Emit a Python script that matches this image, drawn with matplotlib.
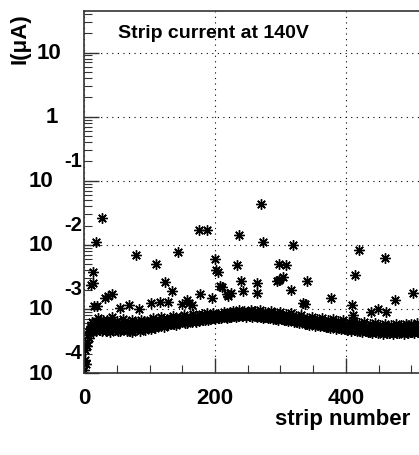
import numpy as np
import matplotlib
matplotlib.use("Agg")
import matplotlib.pyplot as plt
from matplotlib.ticker import LogLocator, NullFormatter, MultipleLocator

plt.rcParams['font.family'] = ['Liberation Sans', 'DejaVu Sans']
plt.rcParams['font.weight'] = 'bold'

# leakage current per strip, in units of 1e-4 uA (strips 0..511)
base_current = [
    1.1, 1.6, 2.3, 1.4, 3.1, 2.6, 3.9, 4.4, 3.5, 4.8, 5.3, 4.6, 6.2, 5.0, 4.3, 5.7,
    5.1, 5.8, 4.6, 6.3, 5.4, 4.9, 7.2, 5.6, 4.7, 5.2, 6.0, 4.5, 5.5, 6.6, 5.0, 4.8,
    5.9, 4.6, 5.3, 6.8, 5.1, 4.9, 5.6, 6.1, 4.4, 5.4, 7.5, 5.0, 4.8, 5.7, 6.2, 5.2,
    4.7, 5.5, 6.4, 5.0, 4.6, 5.8, 5.1, 4.5, 6.0, 5.3, 4.9, 5.6, 7.0, 4.8, 5.2, 5.9,
    5.0, 4.5, 5.7, 6.3, 4.8, 5.2, 4.6, 5.9, 5.1, 4.4, 6.6, 5.3, 4.9, 5.5, 4.7, 6.0,
    5.4, 4.8, 6.1, 5.0, 5.7, 4.6, 5.2, 6.8, 5.5, 4.9, 5.8, 5.1, 6.4, 4.7, 5.3, 5.9,
    5.5, 6.2, 5.0, 5.8, 6.7, 5.3, 4.9, 6.0, 5.6, 7.1, 5.2, 5.9, 6.4, 5.1, 5.7, 6.1,
    6.0, 5.4, 6.6, 5.7, 6.3, 7.4, 5.5, 6.1, 5.8, 6.9, 5.3, 6.2, 5.9, 6.5, 5.6, 7.0,
    6.3, 5.7, 6.8, 6.0, 7.3, 5.9, 6.5, 6.1, 7.8, 5.8, 6.6, 6.2, 7.0, 5.6, 6.4, 6.9,
    6.6, 6.0, 7.1, 6.3, 6.8, 7.6, 6.2, 6.9, 6.4, 8.0, 6.1, 6.7, 7.3, 6.5, 6.0, 7.0,
    6.9, 6.4, 7.5, 6.7, 7.2, 6.3, 8.2, 7.0, 6.6, 7.4, 6.9, 6.2, 7.8, 6.8, 7.1, 6.5,
    7.2, 6.6, 7.7, 7.0, 8.4, 6.8, 7.3, 7.6, 6.7, 7.9, 7.1, 6.9, 8.6, 7.4, 6.8, 7.5,
    7.5, 7.0, 8.0, 7.3, 7.8, 8.7, 7.2, 7.6, 6.9, 8.1, 7.4, 7.9, 7.1, 8.4, 7.3, 7.7,
    7.8, 7.2, 8.3, 7.6, 8.0, 7.4, 9.0, 7.7, 8.2, 7.5, 8.6, 7.3, 7.9, 8.1, 7.6, 8.8,
    8.1, 7.6, 8.6, 7.9, 9.2, 7.8, 8.3, 8.0, 7.5, 8.8, 8.2, 7.7, 9.5, 8.4, 7.9, 8.5,
    8.2, 7.8, 8.7, 8.0, 9.4, 7.9, 8.5, 8.1, 7.6, 9.0, 8.3, 8.0, 8.8, 7.7, 8.4, 9.7,
    8.1, 7.5, 8.6, 7.9, 8.3, 9.3, 7.8, 8.0, 7.4, 8.7, 8.2, 7.7, 9.6, 8.0, 7.6, 8.4,
    7.8, 7.2, 8.3, 7.6, 8.9, 7.4, 7.9, 7.5, 8.2, 7.1, 8.6, 7.7, 7.3, 8.0, 9.2, 7.5,
    7.4, 6.9, 7.9, 7.2, 8.5, 7.0, 7.6, 7.3, 6.8, 8.1, 7.5, 7.1, 8.8, 7.2, 6.9, 7.7,
    7.1, 6.6, 7.6, 6.9, 8.2, 6.7, 7.3, 7.0, 6.5, 7.8, 7.2, 6.8, 8.5, 6.9, 6.6, 7.4,
    6.7, 6.2, 7.2, 6.5, 7.7, 6.3, 6.9, 6.6, 6.1, 7.4, 6.8, 6.4, 8.0, 6.5, 6.2, 7.0,
    6.3, 5.8, 6.8, 6.1, 7.3, 5.9, 6.5, 6.2, 5.7, 7.0, 6.4, 6.0, 7.6, 6.1, 5.8, 6.6,
    6.0, 5.5, 6.5, 5.8, 7.0, 5.6, 6.2, 5.9, 5.4, 6.7, 6.1, 5.7, 7.2, 5.8, 5.5, 6.3,
    5.7, 5.2, 6.2, 5.5, 6.7, 5.3, 5.9, 5.6, 5.1, 6.4, 5.8, 5.4, 6.9, 5.5, 5.2, 6.0,
    5.4, 4.9, 5.9, 5.2, 6.4, 5.0, 5.6, 5.3, 4.8, 6.1, 5.5, 5.1, 6.6, 5.2, 4.9, 5.7,
    5.2, 4.7, 5.7, 5.0, 6.2, 4.8, 5.4, 5.1, 4.6, 5.9, 5.3, 4.9, 6.4, 5.0, 4.7, 5.5,
    5.0, 4.5, 5.5, 4.8, 6.0, 4.6, 5.2, 4.9, 4.4, 5.7, 5.1, 4.7, 6.2, 4.8, 4.5, 5.3,
    4.8, 4.3, 5.3, 4.6, 5.8, 4.4, 5.0, 4.7, 4.2, 5.5, 4.9, 4.5, 6.0, 4.6, 4.3, 5.1,
    4.7, 4.2, 5.2, 4.5, 5.7, 4.3, 4.9, 4.6, 4.1, 5.4, 4.8, 4.4, 5.9, 4.5, 4.2, 5.0,
    4.6, 4.2, 5.1, 4.5, 5.6, 4.3, 4.8, 4.6, 4.1, 5.3, 4.7, 4.4, 5.8, 4.5, 4.2, 4.9,
    4.7, 4.2, 5.2, 4.5, 5.7, 4.3, 4.9, 4.6, 4.1, 5.4, 4.8, 4.4, 5.9, 4.5, 4.2, 5.0,
    4.8, 4.3, 5.3, 4.6, 5.8, 4.4, 5.0, 4.7, 4.2, 5.5, 4.9, 4.5, 6.0, 4.6, 4.3, 5.1,
]

# noisy strips (strip number, current in uA)
noisy_strips = [10, 13, 13, 15, 18, 20, 28, 32, 37, 42, 55, 69, 79, 84, 103,
                110, 116, 124, 129, 135, 143, 150, 157, 160, 165, 175, 177, 188,
                195, 200, 202, 204, 208, 210, 218, 220, 225, 233, 236, 240, 243,
                264, 264, 270, 274, 295, 297, 298, 304, 309, 316, 319, 334, 337,
                340, 377, 409, 411, 414, 420, 438, 449, 460, 461, 475, 503]
noisy_current = [2.4e-3, 2.5e-3, 3.8e-3, 1.1e-3, 1.1e-2, 1.1e-3, 2.6e-2, 1.5e-3,
                 1.6e-3, 1.7e-3, 1.05e-3, 1.15e-3, 7.0e-3, 1.0e-3, 1.25e-3,
                 5.0e-3, 1.3e-3, 2.6e-3, 1.3e-3, 1.9e-3, 7.7e-3, 1.2e-3, 1.4e-3,
                 1.25e-3, 1.15e-3, 1.7e-2, 1.7e-3, 1.7e-2, 1.5e-3, 6.0e-3, 4.1e-3,
                 3.8e-3, 2.3e-3, 2.2e-3, 1.7e-3, 1.6e-3, 1.8e-3, 4.9e-3, 1.4e-2,
                 2.7e-3, 1.9e-3, 2.5e-3, 1.8e-3, 4.4e-2, 1.1e-2, 2.7e-3, 2.8e-3,
                 5.0e-3, 3.1e-3, 4.9e-3, 2.0e-3, 1.0e-2, 1.25e-3, 1.2e-3, 2.7e-3,
                 1.5e-3, 1.15e-3, 8.0e-4, 3.4e-3, 8.3e-3, 9.0e-4, 9.8e-4, 6.2e-3,
                 9.0e-4, 1.4e-3, 1.8e-3]

y_decades = [1e-4, 1e-3, 1e-2, 1e-1, 1, 10]
y_exponents = ['-4', '-3', '-2', '-1', '', '']
y_bases = ['10', '10', '10', '10', '1', '10']
x_ticks = [0, 200, 400]

strips = np.arange(len(base_current))
current = np.array(base_current) * 1e-4

fig = plt.figure(figsize=(4.19, 4.56), dpi=100)
ax = fig.add_axes([0.2005, 0.1798, 0.805, 0.7939])

star = (8, 2, 0)
ax.plot(strips, current, linestyle='none', marker=star, ms=7.5, mew=1.0,
        color='black')
ax.plot(noisy_strips, noisy_current, linestyle='none', marker=star, ms=7.5,
        mew=1.0, color='black')

ax.set_yscale('log')
ax.set_xlim(0, 515)
ax.set_ylim(1e-4, 44.5)

ax.set_xticks(x_ticks)
ax.set_xticklabels([str(t) for t in x_ticks], fontsize=16, fontweight='bold')
ax.xaxis.set_minor_locator(MultipleLocator(50))
ax.yaxis.set_major_locator(LogLocator(base=10, numticks=20))
ax.yaxis.set_minor_locator(LogLocator(base=10, subs=np.arange(2, 10), numticks=20))
ax.yaxis.set_major_formatter(NullFormatter())
ax.yaxis.set_minor_formatter(NullFormatter())

ax.tick_params(which='major', direction='in', length=11, width=1.0,
               color='#333333', pad=10)
ax.tick_params(which='minor', direction='in', length=5.5, width=0.8,
               color='#333333')
ax.tick_params(right=False, top=False)

ax.grid(True, which='major', color='black', linestyle=(0, (1, 4)), lw=0.8)

for sp in ['left', 'bottom', 'top']:
    ax.spines[sp].set_color('#333333')
    ax.spines[sp].set_linewidth(1.2)
ax.spines['right'].set_visible(False)

# ROOT-style log labels: base plus raised exponent
for yv, base, ex in zip(y_decades, y_bases, y_exponents):
    if ex:
        ax.annotate(base, xy=(0, yv), xycoords=('axes fraction', 'data'),
                    xytext=(-22, 0), textcoords='offset points',
                    ha='right', va='center', fontsize=16, fontweight='bold')
        ax.annotate(ex, xy=(0, yv), xycoords=('axes fraction', 'data'),
                    xytext=(-1.5, 14.5), textcoords='offset points',
                    ha='right', va='center', fontsize=14.5, fontweight='bold')
    else:
        off = -16 if base == '10' else -19
        ax.annotate(base, xy=(0, yv), xycoords=('axes fraction', 'data'),
                    xytext=(off, 0), textcoords='offset points',
                    ha='right', va='center', fontsize=16, fontweight='bold')

fig.text(118 / 419, 1 - 33 / 456, 'Strip current at 140V', ha='left',
         va='center', fontsize=14, fontweight='bold')
fig.text(20 / 419, 1 - 13 / 456, 'I(\u03bcA)', rotation=90, ha='center',
         va='top', fontsize=16, fontweight='bold')
fig.text(410 / 419, 1 - 420 / 456, 'strip number', ha='right', va='center',
         fontsize=16, fontweight='bold')

fig.savefig('out.png', dpi=100)
